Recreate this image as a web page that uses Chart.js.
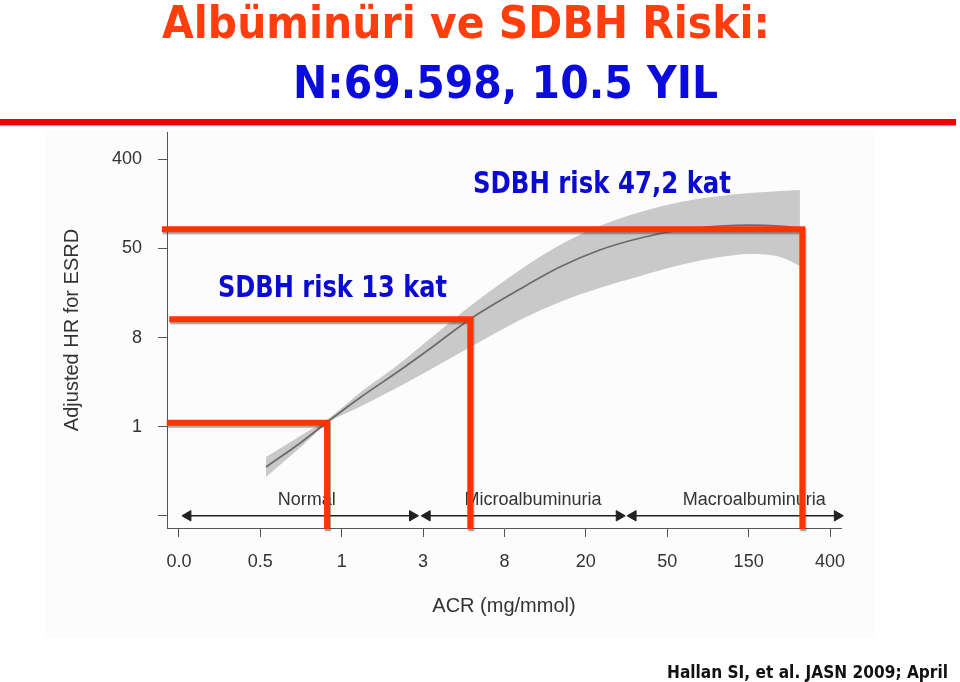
<!DOCTYPE html>
<html><head><meta charset="utf-8">
<script src="https://cdn.jsdelivr.net/npm/chart.js@4.4.1/dist/chart.umd.min.js"></script>
<style>
html,body{margin:0;padding:0;background:#fff;}
#wrap{position:relative;width:960px;height:682px;overflow:hidden;background:#fff;}
#panel{position:absolute;left:45px;top:130px;width:830px;height:508px;background:#fcfcfc;}
#rule{position:absolute;left:0;top:119px;width:956px;height:6px;background:#ee0000;box-shadow:0 1px 1px #aaa;}
canvas{position:absolute;left:0;top:0;}
.t{position:absolute;white-space:nowrap;font-family:"DejaVu Sans",sans-serif;font-weight:bold;transform-origin:0 0;}
#t1{color:#ff3d0d;font-size:45px;line-height:45px;top:0;}
#t2{color:#0b0bdc;font-size:45px;line-height:45px;top:60px;}
#a1{color:#0b0bd0;font-size:30px;line-height:30px;top:168px;}
#a2{color:#0b0bd0;font-size:30px;line-height:30px;top:272px;}
#foot{color:#111;font-size:18px;line-height:18px;top:663px;}
</style>
</head><body>
<div id="wrap">
  <div id="panel"></div>
  <div id="rule"></div>
  <canvas id="c" width="960" height="682"></canvas>
  <div class="t" id="t1">Albüminüri ve SDBH Riski:</div>
  <div class="t" id="t2">N:69.598, 10.5 YIL</div>
  <div class="t" id="a1">SDBH risk 47,2 kat</div>
  <div class="t" id="a2">SDBH risk 13 kat</div>
  <div class="t" id="foot">Hallan SI, et al. JASN 2009; April</div>
</div>
<script>
// ---- data (axis units: x = ACR tick position, y = HR tick position) ----
const acrTickLabels = ['0.0','0.5','1','3','8','20','50','150','400'];
const hrTickLabels  = ['', '1', '8', '50', '400'];   // at y = -1, 0, 1, 2, 3
const hrTickValues  = [-1, 0, 1, 2, 3];

const curveX  = [1.07, 1.49, 1.83, 2.22, 2.72, 3.08, 3.58, 4.19, 4.68, 5.17, 5.67, 6.16, 6.65, 7.02, 7.39, 7.63];
const hrFit   = [-0.452, -0.183, 0.058, 0.322, 0.636, 0.872, 1.209, 1.545, 1.792, 1.983, 2.118, 2.207, 2.252, 2.263, 2.252, 2.230];
const hrUpper = [-0.340, -0.104, 0.086, 0.378, 0.715, 0.984, 1.355, 1.759, 2.039, 2.252, 2.409, 2.522, 2.589, 2.623, 2.645, 2.657];
const hrLower = [-0.565, -0.233, 0.042, 0.221, 0.457, 0.636, 0.894, 1.198, 1.400, 1.557, 1.692, 1.815, 1.905, 1.939, 1.905, 1.804];

const refX      = [1.82, 3.58, 7.66];
const refY      = [0.045, 1.205, 2.215];
const refStartX = [-0.15, -0.12, -0.21];
const refBottom = -1.15;

const rangeNames  = ['Normal', 'Microalbuminuria', 'Macroalbuminuria'];
const rangeStart  = [0.11, 3.05, 5.58];
const rangeEnd    = [2.87, 5.41, 8.09];
const rangeY      = -1;
const rangeLabelX = [1.57, 4.35, 7.07];
const rangeLabelY = -0.82;

// ---- build datasets ----
const zip = (xs, ys) => xs.map((x, i) => ({x: x, y: ys[i]}));
const datasets = [
  {data: zip(curveX, hrUpper), borderWidth: 0, borderColor: 'rgba(0,0,0,0)', pointRadius: 0,
   fill: '+1', backgroundColor: '#c9c9c9', cubicInterpolationMode: 'monotone', order: 6},
  {data: zip(curveX, hrLower), borderWidth: 0, borderColor: 'rgba(0,0,0,0)', pointRadius: 0,
   fill: false, cubicInterpolationMode: 'monotone', order: 6},
  {data: zip(curveX, hrFit), borderWidth: 1.7, borderColor: '#6a6a6a', pointRadius: 0,
   fill: false, cubicInterpolationMode: 'monotone', order: 5}
];
rangeNames.forEach((n, i) => {
  datasets.push({data: [{x: rangeStart[i], y: rangeY}, {x: rangeEnd[i], y: rangeY}],
    borderColor: '#222', borderWidth: 1.5, fill: false, pointStyle: 'triangle',
    pointRadius: 6, pointRotation: [-90, 90], pointBackgroundColor: '#222',
    pointBorderColor: '#222', pointBorderWidth: 1, clip: false, order: 4});
});
refX.forEach((x, i) => {
  datasets.push({data: [{x: refStartX[i], y: refY[i]}, {x: x, y: refY[i]}, {x: x, y: refBottom}],
    borderColor: '#ff3300', borderWidth: 6, pointRadius: 0, fill: false, tension: 0,
    borderJoinStyle: 'miter', borderCapStyle: 'butt', clip: false, isRef: true, order: 1});
});

const rangeLabelPlugin = {
  id: 'rangeLabels',
  beforeDatasetsDraw(chart) {
    const {ctx, scales} = chart;
    ctx.save();
    ctx.font = '18px "Liberation Sans", Arial, sans-serif';
    ctx.fillStyle = '#333';
    ctx.textAlign = 'center';
    ctx.textBaseline = 'middle';
    rangeNames.forEach((n, i) => {
      ctx.fillText(n, scales.x.getPixelForValue(rangeLabelX[i]), scales.y.getPixelForValue(rangeLabelY));
    });
    ctx.restore();
  }
};
const shadowPlugin = {
  id: 'refShadow',
  beforeDatasetDraw(chart, args) {
    if (chart.data.datasets[args.index].isRef) {
      const ctx = chart.ctx;
      ctx.save();
      ctx.shadowColor = 'rgba(60,60,60,0.45)';
      ctx.shadowOffsetX = 1;
      ctx.shadowOffsetY = 2;
      ctx.shadowBlur = 1;
    }
  },
  afterDatasetDraw(chart, args) {
    if (chart.data.datasets[args.index].isRef) chart.ctx.restore();
  }
};

const tickFont = {family: '"Liberation Sans", Arial, sans-serif', size: 18};
new Chart(document.getElementById('c'), {
  type: 'line',
  data: {datasets: datasets},
  plugins: [rangeLabelPlugin, shadowPlugin],
  options: {
    responsive: false, animation: false, devicePixelRatio: 1,
    layout: {padding: {left: 50, top: 132, right: 119, bottom: 60}},
    plugins: {legend: {display: false}, tooltip: {enabled: false}},
    scales: {
      x: {
        type: 'linear', min: -0.147, max: 8.135,
        afterBuildTicks: s => { s.ticks = acrTickLabels.map((_, i) => ({value: i})); },
        afterFit: s => { s.height = 94; },
        ticks: {callback: v => acrTickLabels[v] ?? '', font: tickFont, color: '#333', padding: 14,
                maxRotation: 0, autoSkip: false},
        grid: {drawOnChartArea: false, drawTicks: true, tickLength: 9, color: '#555'},
        border: {color: '#555', width: 1},
        title: {display: true, text: 'ACR (mg/mmol)', color: '#333',
                font: {family: '"Liberation Sans", Arial, sans-serif', size: 20}, padding: {top: 0, bottom: 4}}
      },
      y: {
        type: 'linear', min: -1.137, max: 3.307,
        afterBuildTicks: s => { s.ticks = hrTickValues.map(v => ({value: v})); },
        afterFit: s => { s.width = 117; },
        ticks: {callback: v => hrTickLabels[hrTickValues.indexOf(v)] ?? '', font: tickFont, color: '#333', padding: 16},
        grid: {drawOnChartArea: false, drawTicks: true, tickLength: 9, color: '#555'},
        border: {color: '#555', width: 1},
        title: {display: true, text: 'Adjusted HR for ESRD', color: '#333',
                font: {family: '"Liberation Sans", Arial, sans-serif', size: 20}, padding: {top: 10, bottom: 0}}
      }
    }
  }
});

// fit the slide texts horizontally to the widths they take in the reference
function fit(id, left, width) {
  const el = document.getElementById(id);
  el.style.left = left + 'px';
  const w = el.getBoundingClientRect().width;
  el.style.transform = 'scaleX(' + (width / w) + ')';
}
fit('t1', 162, 608);
fit('t2', 293, 425);
fit('a1', 473, 258);
fit('a2', 218, 229);
fit('foot', 667, 281);
</script>
</body></html>
